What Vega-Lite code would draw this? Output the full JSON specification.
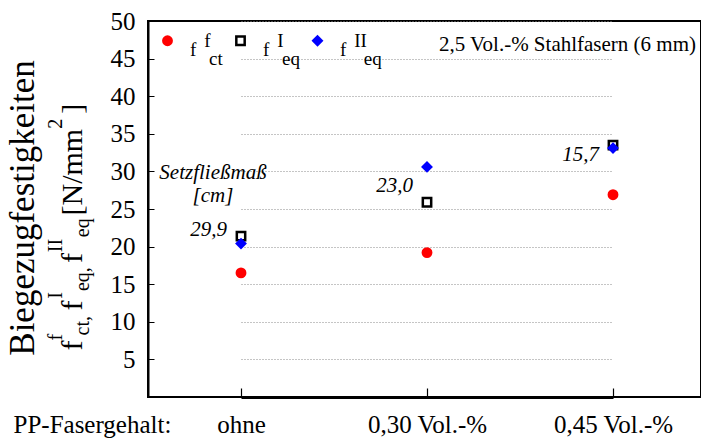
{
  "$schema": "https://vega.github.io/schema/vega-lite/v6.json",
  "width": 553,
  "height": 376,
  "autosize": {"type": "none"},
  "padding": {"left": 148, "top": 21, "right": 0, "bottom": 42},
  "background": "white",
  "title": {
    "text": "2,5 Vol.-% Stahlfasern (6 mm)",
    "anchor": "end",
    "orient": "top",
    "offset": -46,
    "dx": -5,
    "font": "Liberation Serif",
    "fontSize": 21,
    "fontWeight": "normal",
    "color": "black"
  },
  "datasets": {
    "points": [
      {"cat": "ohne", "series": "fct", "value": 16.5},
      {"cat": "0,30 Vol.-%", "series": "fct", "value": 19.2},
      {"cat": "0,45 Vol.-%", "series": "fct", "value": 26.9},
      {"cat": "ohne", "series": "feqI", "value": 21.4},
      {"cat": "0,30 Vol.-%", "series": "feqI", "value": 25.9},
      {"cat": "0,45 Vol.-%", "series": "feqI", "value": 33.5},
      {"cat": "ohne", "series": "feqII", "value": 20.4},
      {"cat": "0,30 Vol.-%", "series": "feqII", "value": 30.6},
      {"cat": "0,45 Vol.-%", "series": "feqII", "value": 33.1}
    ],
    "flow": [
      {"cat": "ohne", "value": 22.2, "label": "29,9"},
      {"cat": "0,30 Vol.-%", "value": 28.0, "label": "23,0"},
      {"cat": "0,45 Vol.-%", "value": 32.2, "label": "15,7"}
    ],
    "note": [
      {"cat": "ohne", "value": 29.75, "label": "Setzfließmaß\n[cm]"}
    ]
  },
  "encoding": {
    "x": {
      "field": "cat",
      "type": "nominal",
      "sort": ["ohne", "0,30 Vol.-%", "0,45 Vol.-%"],
      "scale": {"type": "point", "domain": ["ohne", "0,30 Vol.-%", "0,45 Vol.-%"], "range": [93, 465], "padding": 0},
      "axis": {
        "title": "PP-Fasergehalt:",
        "titleX": -135,
        "titleY": 35,
        "titleAlign": "left",
        "titleBaseline": "alphabetic",
        "titleAngle": 0,
        "titleFont": "Liberation Serif",
        "titleFontSize": 25,
        "titleFontWeight": "normal",
        "titleColor": "black",
        "labelAngle": 0,
        "labelFont": "Liberation Serif",
        "labelFontSize": 25,
        "labelColor": "black",
        "labelBaseline": "alphabetic",
        "labelPadding": 44,
        "tickSize": -9,
        "tickColor": "black",
        "tickWidth": 1.2,
        "domainColor": "black",
        "domainWidth": 3,
        "grid": false
      }
    }
  },
  "layer": [
    {
      "data": {"name": "points"},
      "mark": {"type": "point", "size": 70, "strokeWidth": 2.5, "opacity": 1, "fillOpacity": 1, "strokeOpacity": 1},
      "encoding": {
        "y": {
          "field": "value",
          "type": "quantitative",
          "scale": {"domain": [0, 50], "nice": false, "zero": true},
          "axis": {
            "values": [5, 10, 15, 20, 25, 30, 35, 40, 45, 50],
            "orient": "left",
            "title": "f\u2003f\u2003\u00a0f\u2003\u00a0[N/mm\u2002]",
            "titleX": -67,
            "titleY": 329,
            "titleAngle": 270,
            "titleAlign": "left",
            "titleBaseline": "alphabetic",
            "titleFont": "Liberation Serif",
            "titleFontSize": 30,
            "titleFontWeight": "normal",
            "titleColor": "black",
            "labelFont": "Liberation Serif",
            "labelFontSize": 25,
            "labelColor": "black",
            "labelPadding": 19,
            "tickSize": -6,
            "tickColor": "black",
            "domainColor": "black",
            "domainWidth": 2,
            "grid": true,
            "gridColor": "#8a8a8a",
            "gridDash": [1, 2],
            "gridWidth": 1
          }
        },
        "fill": {
          "field": "series", "type": "nominal", "title": null,
          "scale": {"domain": ["fct", "feqI", "feqII"], "range": ["#ff0000", "#ffffff", "#0000ff"]},
          "legend": {
            "labelExpr": "datum.value == 'fct' ? ['\u2060\u00a0\u00a0\u00a0f', 'f', '\u2060\u00a0\u00a0\u00a0\u00a0ct'] : datum.value == 'feqI' ? ['\u2060\u00a0\u00a0\u00a0I', 'f', '\u2060\u00a0\u00a0\u00a0\u00a0eq'] : ['\u2060\u00a0\u00a0\u00a0II', 'f', '\u2060\u00a0\u00a0\u00a0\u00a0\u00a0eq']"
          }
        },
        "stroke": {
          "field": "series", "type": "nominal", "title": null,
          "scale": {"domain": ["fct", "feqI", "feqII"], "range": ["#ff0000", "#000000", "#0000ff"]}
        },
        "shape": {
          "field": "series", "type": "nominal", "title": null,
          "scale": {"domain": ["fct", "feqI", "feqII"], "range": ["circle", "square", "diamond"]}
        }
      }
    },
    {
      "data": {"name": "flow"},
      "mark": {"type": "text", "align": "right", "baseline": "middle", "dx": -14, "font": "Liberation Serif", "fontSize": 21, "fontStyle": "italic", "color": "black"},
      "encoding": {
        "y": {
          "field": "value",
          "type": "quantitative",
          "scale": {"domain": [0, 50], "nice": false, "zero": true},
          "axis": {
            "orient": "left",
            "labels": false,
            "ticks": false,
            "domain": false,
            "grid": false,
            "title": ["\u2060\u00a0\u00a0f\u2003\u2002\u00a0I\u2003\u2003II\u2003\u2003\u2003\u2003\u2003\u20022", "\u2060\u2002\u00a0ct,\u2003\u00a0eq,\u2003\u2002eq"],
            "titleX": -87,
            "titleY": 329,
            "titleAngle": 270,
            "titleAlign": "left",
            "titleBaseline": "alphabetic",
            "titleLineHeight": 27,
            "titleFont": "Liberation Serif",
            "titleFontSize": 20,
            "titleFontWeight": "normal",
            "titleColor": "black"
          }
        },
        "text": {"field": "label", "type": "nominal"}
      }
    },
    {
      "data": {"name": "note"},
      "mark": {"type": "text", "align": "center", "baseline": "middle", "dx": -28, "lineBreak": "\n", "lineHeight": 23, "font": "Liberation Serif", "fontSize": 21, "fontStyle": "italic", "color": "black"},
      "encoding": {
        "y": {
          "field": "value",
          "type": "quantitative",
          "scale": {"domain": [0, 50], "nice": false, "zero": true},
          "axis": {
            "orient": "left",
            "labels": false,
            "ticks": false,
            "domain": false,
            "grid": false,
            "title": "Biegezugfestigkeiten",
            "titleX": -114.5,
            "titleY": 186.5,
            "titleAngle": 270,
            "titleAlign": "center",
            "titleBaseline": "alphabetic",
            "titleFont": "Liberation Serif",
            "titleFontSize": 35,
            "titleFontWeight": "normal",
            "titleColor": "black"
          }
        },
        "text": {"field": "label", "type": "nominal"}
      }
    }
  ],
  "resolve": {"axis": {"y": "independent"}},
  "config": {
    "font": "Liberation Serif",
    "view": {"stroke": "black", "strokeWidth": 2},
    "style": {"guide-label": {"lineHeight": 9}},
    "legend": {
      "orient": "none",
      "legendX": 10,
      "legendY": 10,
      "direction": "horizontal",
      "padding": 0,
      "symbolSize": 70,
      "symbolStrokeWidth": 2.5,
      "labelFont": "Liberation Serif",
      "labelFontSize": 19,
      "labelColor": "black",
      "labelBaseline": "middle",
      "labelOffset": 13,
      "labelLimit": 300,
      "columnPadding": 8
    }
  }
}
